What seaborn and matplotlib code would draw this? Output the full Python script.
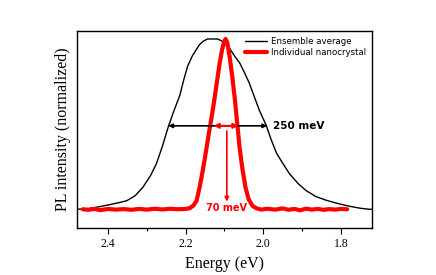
import seaborn as sns
import matplotlib.pyplot as plt
import pandas as pd
from matplotlib.ticker import MultipleLocator

# Ensemble average spectrum
ens_energy = [2.48, 2.45, 2.42, 2.39, 2.37, 2.352, 2.33, 2.31, 2.29, 2.275, 2.26, 2.244,
              2.23, 2.215, 2.205, 2.195, 2.183, 2.172, 2.165, 2.156, 2.144, 2.13, 2.118,
              2.108, 2.098, 2.087, 2.074, 2.061, 2.048, 2.036, 2.023, 2.01, 2.0, 1.992,
              1.98, 1.966, 1.95, 1.933, 1.91, 1.89, 1.865, 1.838, 1.81, 1.779, 1.75, 1.727, 1.72]
ens_intensity = [0.0, 0.004, 0.016, 0.03, 0.04, 0.05, 0.08, 0.13, 0.2, 0.27, 0.37, 0.49,
                 0.58, 0.67, 0.76, 0.84, 0.9, 0.94, 0.965, 0.985, 1.0, 1.0, 1.0,
                 0.99, 0.97, 0.945, 0.9, 0.86, 0.8, 0.74, 0.66, 0.58, 0.53, 0.49,
                 0.41, 0.33, 0.27, 0.21, 0.15, 0.11, 0.075, 0.053, 0.035, 0.018, 0.006, 0.0, 0.0]

# Individual nanocrystal spectrum
nc_energy = [2.465, 2.45, 2.435, 2.42, 2.40, 2.38, 2.36, 2.34, 2.32, 2.30, 2.28, 2.26,
             2.24, 2.22, 2.20, 2.19, 2.18, 2.172, 2.164, 2.155, 2.147, 2.14, 2.134, 2.127,
             2.12, 2.113, 2.106, 2.10, 2.097, 2.093, 2.087, 2.08, 2.073, 2.067, 2.061,
             2.054, 2.046, 2.038, 2.028, 2.018, 2.005, 1.99, 1.97, 1.95, 1.935, 1.92,
             1.905, 1.89, 1.875, 1.86, 1.845, 1.83, 1.815, 1.80, 1.784]
nc_intensity = [0.0, -0.003, 0.002, -0.005, 0.002, -0.002, 0.001, -0.003, 0.002, -0.002, 0.003, -0.001,
                0.003, 0.0, 0.002, 0.006, 0.022, 0.05, 0.13, 0.24, 0.35, 0.45, 0.53, 0.63,
                0.74, 0.85, 0.94, 0.99, 1.0, 0.98, 0.9, 0.78, 0.64, 0.5, 0.36,
                0.24, 0.13, 0.06, 0.02, 0.006, -0.002, 0.003, -0.002, 0.005, -0.003, 0.002,
                -0.006, 0.004, -0.002, 0.002, -0.003, 0.001, -0.002, 0.002, 0.0]

ens = pd.DataFrame({"Energy": ens_energy, "PL": ens_intensity})
nc = pd.DataFrame({"Energy": nc_energy, "PL": nc_intensity})

sns.set_style("ticks")
plt.rcParams["text.color"] = "black"
fig = plt.figure(figsize=(4.36, 2.75), dpi=100)
ax = fig.add_axes([0.1766, 0.1709, 0.6766, 0.7164])

sns.lineplot(data=ens, x="Energy", y="PL", color="black", linewidth=1.0,
             label="Ensemble average", ax=ax, sort=False)
sns.lineplot(data=nc, x="Energy", y="PL", color="#ff0000", linewidth=3.0,
             label="Individual nanocrystal", ax=ax, sort=False)

ax.set_xlim(2.48, 1.72)
ax.set_ylim(-0.11, 1.047)
ax.set_yticks([])
ax.xaxis.set_major_locator(MultipleLocator(0.2))
ax.xaxis.set_minor_locator(MultipleLocator(0.1))
ax.tick_params(axis="x", which="major", length=4, width=0.8, direction="out",
               colors="black")
ax.tick_params(axis="x", which="minor", length=2, width=0.8, direction="out",
               colors="black")
for lab in ax.get_xticklabels():
    lab.set_fontfamily("Liberation Serif")
    lab.set_fontsize(8.5)
for s in ax.spines.values():
    s.set_linewidth(1.0)
    s.set_color("black")

ax.set_xlabel("Energy (eV)", family="Liberation Serif", fontsize=11.5, color="black")
ax.set_ylabel("PL intensity (normalized)", family="Liberation Serif", fontsize=11.5,
              color="black")

# FWHM arrows
ax.annotate("", xy=(2.245, 0.49), xytext=(1.99, 0.49),
            arrowprops=dict(arrowstyle="<|-|>", color="black", lw=1.2,
                            mutation_scale=6, shrinkA=0, shrinkB=0))
ax.text(1.975, 0.49, "250 meV", fontsize=7.5, fontweight="bold", va="center", ha="left",
        color="black")
ax.annotate("", xy=(2.128, 0.49), xytext=(2.064, 0.49),
            arrowprops=dict(arrowstyle="<|-|>", color="#ff0000", lw=1.5,
                            mutation_scale=7, shrinkA=0, shrinkB=0))
ax.annotate("", xy=(2.094, 0.045), xytext=(2.094, 0.46),
            arrowprops=dict(arrowstyle="-|>", color="#ff0000", lw=1.2,
                            mutation_scale=6, shrinkA=0, shrinkB=0))
ax.text(2.094, 0.005, "70 meV", fontsize=7, fontweight="bold", color="#ff0000",
        va="center", ha="center")

leg = ax.legend(loc="upper right", frameon=False, fontsize=6.2, handlelength=2.6,
                handletextpad=0.5, labelspacing=0.25, borderaxespad=0.25)
for t in leg.get_texts():
    t.set_color("black")

fig.savefig("out.png", dpi=100)
